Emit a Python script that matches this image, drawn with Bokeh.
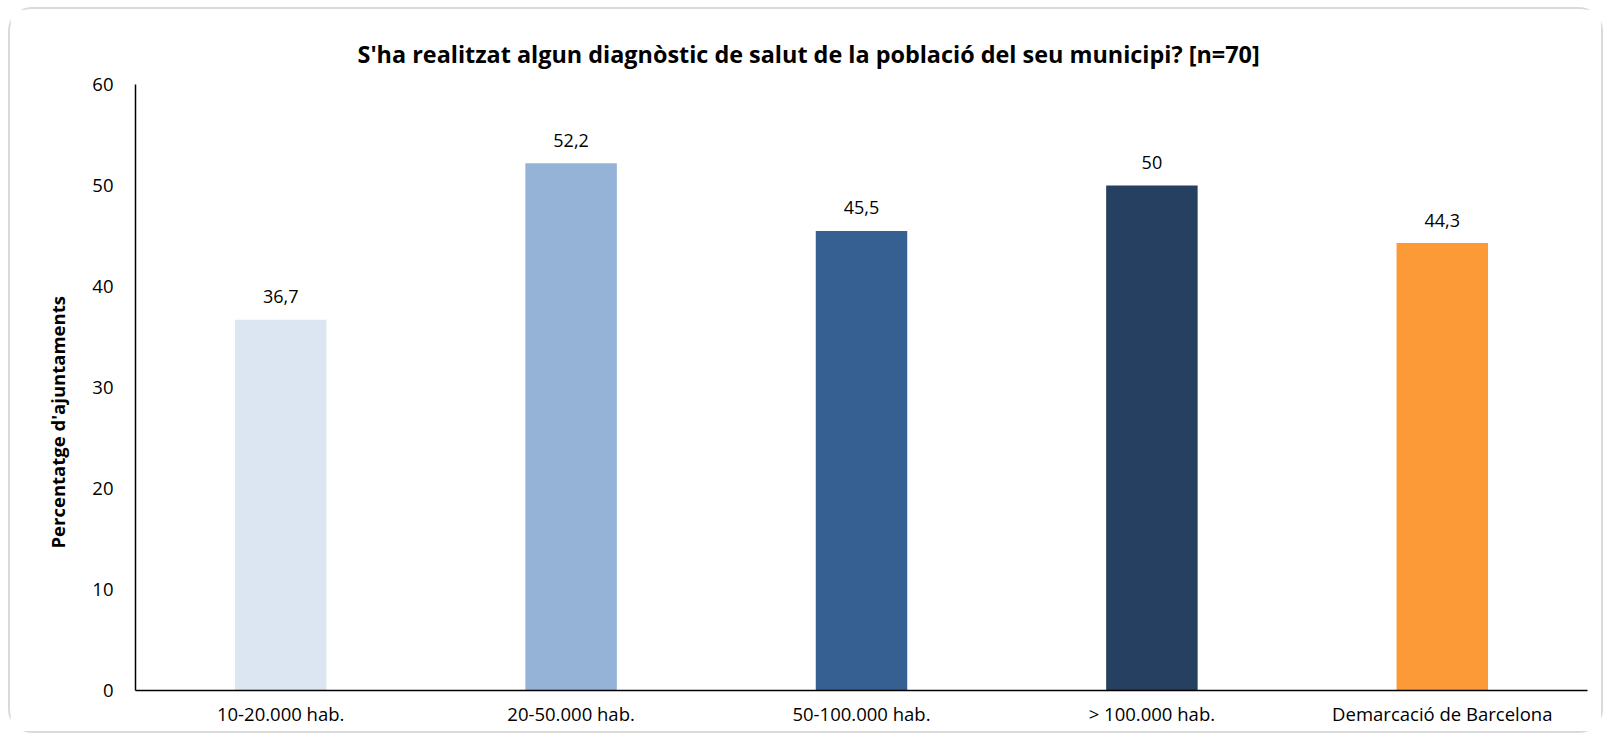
import math
from bokeh.plotting import figure
from bokeh.models import Range1d, FactorRange, Title, ColumnDataSource, FixedTicker
from bokeh.embed import file_html
from bokeh.resources import INLINE
from bokeh.core.properties import value

categories = ["10-20.000 hab.", "20-50.000 hab.", "50-100.000 hab.", "> 100.000 hab.", "Demarcació de Barcelona"]
values = [36.7, 52.2, 45.5, 50.0, 44.3]
colors = ["#dce6f2", "#95b3d7", "#376092", "#254061", "#fd9a38"]
labels = ["36,7", "52,2", "45,5", "50", "44,3"]
y_ticks = [0, 10, 20, 30, 40, 50, 60]
title_text = "S'ha realitzat algun diagnòstic de salut de la població del seu municipi? [n=70]"
y_label = "Percentatge d'ajuntaments"

FONT = "Open Sans"

src = ColumnDataSource(dict(cat=categories, val=values, color=colors, label=labels))

p = figure(width=1595, height=726,
           x_range=FactorRange(factors=categories, range_padding=0),
           y_range=Range1d(0, 60),
           output_backend="svg", toolbar_location=None,
           min_border_left=125, min_border_right=18,
           min_border_top=75, min_border_bottom=45)

p.vbar(x="cat", top="val", width=0.315, fill_color="color", line_color=None, source=src)
p.text(x="cat", y="val", text="label", source=src, text_align="center",
       text_baseline="alphabetic", y_offset=-23,
       text_font=value(FONT), text_font_size="18px", text_color="#000000")

p.grid.visible = False
p.outline_line_color = None

for ax in (p.xaxis, p.yaxis):
    ax.axis_line_color = "#000000"
    ax.axis_line_width = 1.5
    ax.major_tick_line_color = None
    ax.minor_tick_line_color = None
    ax.major_label_text_font = FONT
    ax.major_label_text_font_size = "18.5px"
    ax.major_label_text_color = "#000000"

p.yaxis.ticker = FixedTicker(ticks=y_ticks)
p.yaxis.major_label_standoff = 16
p.xaxis.major_label_standoff = 4

p.title = Title(text=title_text, align="left", offset=222, standoff=30,
                text_font=FONT, text_font_size="23.4px", text_font_style="bold",
                text_color="#000000")
p.add_layout(Title(text=y_label, align="left", offset=142, standoff=40,
                   text_font=FONT, text_font_size="18.5px", text_font_style="bold",
                   text_color="#000000"), "left")

p.styles = {"margin-left": "8px", "margin-top": "7px",
            "border": "2px solid #d9d9d9", "border-radius": "24px"}

open("out.html", "w").write(file_html(p, INLINE))
